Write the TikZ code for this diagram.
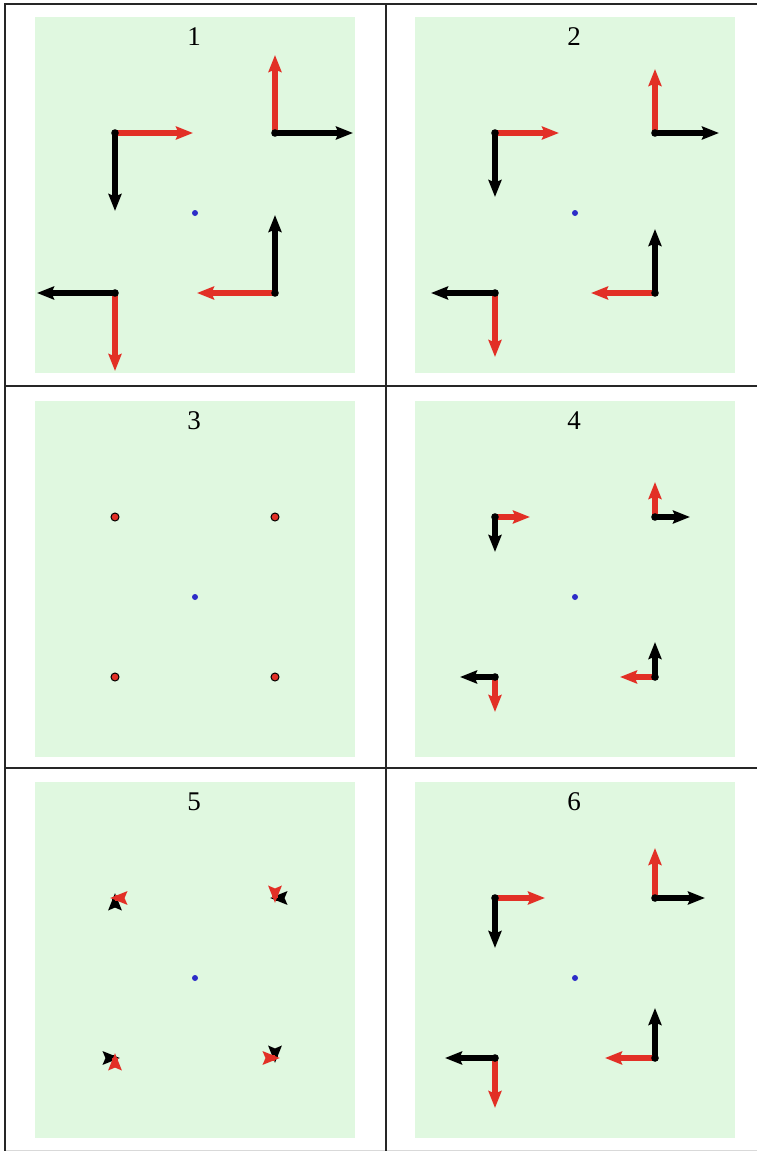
\documentclass[tikz,border=0pt]{standalone}
\usepackage{fontspec}
\setmainfont{Liberation Serif}
\usetikzlibrary{arrows.meta}
\definecolor{panelgreen}{RGB}{224,248,224}
\definecolor{vred}{RGB}{226,48,38}
\definecolor{dotblue}{RGB}{45,45,200}
\tikzset{
  vec/.style={line width=5.4pt, -{Stealth[length=17pt,width=13pt,inset=2.5pt]}},
  redvec/.style={vec, draw=vred, fill=vred},
  blackvec/.style={vec, draw=black, fill=black},
  gridline/.style={line width=2pt, black!85},
  lab/.style={font=\fontsize{27}{30}\selectfont, inner sep=0pt, anchor=center},
  cornerdot/.style={fill=black},
  zerodot/.style={fill=vred, draw=black, line width=1pt},
  centerdot/.style={fill=dotblue},
  panelbg/.style={fill=panelgreen}
}
% #1 cx, #2 cy, #3 label, #4 vector length
\newcommand\vecpanel[4]{%
  \fill[panelbg] (#1-160,#2-196) rectangle (#1+160,#2+160);
  \node[lab] (lab#3) at (#1-1,#2-176) {#3};
  \fill[centerdot] (#1,#2) circle (3pt);
  \coordinate (tl#3) at (#1-80,#2-80);
  \coordinate (tr#3) at (#1+80,#2-80);
  \coordinate (br#3) at (#1+80,#2+80);
  \coordinate (bl#3) at (#1-80,#2+80);
  \draw[blackvec] (tl#3) -- ++(0,#4);
  \draw[redvec] (tl#3) -- ++(#4,0);
  \draw[blackvec] (tr#3) -- ++(#4,0);
  \draw[redvec] (tr#3) -- ++(0,-#4);
  \draw[blackvec] (br#3) -- ++(0,-#4);
  \draw[redvec] (br#3) -- ++(-#4,0);
  \draw[blackvec] (bl#3) -- ++(-#4,0);
  \draw[redvec] (bl#3) -- ++(0,#4);
}
\newcommand\cornerdots[3]{%
  \foreach \dx/\dy in {-80/-80,80/-80,80/80,-80/80}{
    \fill[#3] (#1+\dx,#2+\dy) circle (3.8pt);
  }
}
\begin{document}
\begin{tikzpicture}[x=1pt,y=-1pt]
\useasboundingbox (0,0) rectangle (757,1151);
\fill[white] (0,0) rectangle (757,1151);
% panel 1
\vecpanel{195}{213}{1}{78}
\cornerdots{195}{213}{cornerdot}
% panel 2
\vecpanel{575}{213}{2}{64}
\cornerdots{575}{213}{cornerdot}
% panel 3
\fill[panelbg] (195-160,597-196) rectangle (195+160,597+160);
\node[lab] (lab3) at (194,421) {3};
\fill[centerdot] (195,597) circle (3pt);
\foreach \dx/\dy in {-80/-80,80/-80,80/80,-80/80}{
  \filldraw[zerodot] (195+\dx,597+\dy) circle (4pt);
}
% panel 4
\vecpanel{575}{597}{4}{35}
\cornerdots{575}{597}{cornerdot}
% panel 5
\vecpanel{195}{978}{5}{-5}
% panel 6
\vecpanel{575}{978}{6}{50}
\cornerdots{575}{978}{cornerdot}
% table lines
\draw[black!15, line width=1pt] (4.5,1150.5) -- (768,1150.5);
\draw[gridline] (4.5,1151) -- (4.5,4) -- (768,4);
\draw[gridline] (386,4) -- (386,1151);
\draw[gridline] (4.5,386) -- (768,386);
\draw[gridline] (4.5,768) -- (768,768);
\end{tikzpicture}
\end{document}
